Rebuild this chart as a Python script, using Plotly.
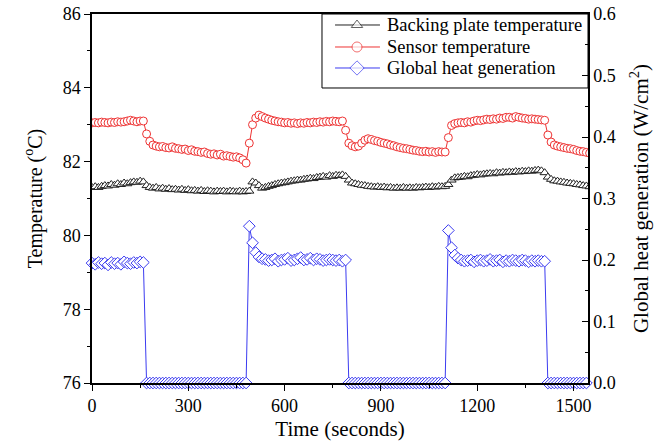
import plotly.graph_objects as go

# time samples (s)
time_s = list(range(0, 1560, 10))

backing_plate = [
    81.30, 81.32, 81.30, 81.33, 81.35, 81.34, 81.38, 81.36, 81.40, 81.38,   # 0-90
    81.42, 81.40, 81.43, 81.45, 81.44, 81.47, 81.45, 81.35, 81.30, 81.28,   # 100-190
    81.30, 81.26, 81.28, 81.25, 81.27, 81.24, 81.25, 81.23, 81.25, 81.22,   # 200-290
    81.24, 81.21, 81.22, 81.20, 81.22, 81.19, 81.21, 81.20, 81.18, 81.20,   # 300-390
    81.19, 81.20, 81.18, 81.20, 81.19, 81.18, 81.20, 81.18, 81.19, 81.20,   # 400-490
    81.45, 81.42, 81.35, 81.28, 81.30, 81.33, 81.35, 81.38, 81.40, 81.42,   # 500-590
    81.43, 81.45, 81.47, 81.48, 81.50, 81.50, 81.52, 81.53, 81.55, 81.54,   # 600-690
    81.57, 81.58, 81.60, 81.58, 81.62, 81.60, 81.63, 81.62, 81.64, 81.60,   # 700-790
    81.50, 81.42, 81.40, 81.38, 81.36, 81.35, 81.33, 81.32, 81.31, 81.32,   # 800-890
    81.30, 81.31, 81.29, 81.30, 81.28, 81.29, 81.28, 81.30, 81.28, 81.29,   # 900-990
    81.28, 81.30, 81.29, 81.30, 81.31, 81.30, 81.32, 81.31, 81.33, 81.32,   # 1000-1090
    81.33, 81.38, 81.50, 81.56, 81.57, 81.58, 81.60, 81.59, 81.62, 81.63,   # 1100-1190
    81.65, 81.64, 81.66, 81.67, 81.68, 81.67, 81.70, 81.69, 81.71, 81.70,   # 1200-1290
    81.72, 81.71, 81.73, 81.72, 81.74, 81.73, 81.75, 81.74, 81.76, 81.77,   # 1300-1390
    81.75, 81.70, 81.58, 81.52, 81.48, 81.47, 81.45, 81.44, 81.42, 81.41,   # 1400-1490
    81.40, 81.38, 81.37, 81.35, 81.34, 81.32,                               # 1500-1550
]

sensor = [
    83.05, 83.06, 83.05, 83.07, 83.06, 83.05, 83.07, 83.06, 83.08, 83.07,   # 0-90
    83.08, 83.10, 83.12, 83.10, 83.08, 83.10, 83.10, 82.75, 82.55, 82.45,   # 100-190
    82.42, 82.40, 82.41, 82.38, 82.37, 82.40, 82.36, 82.35, 82.33, 82.34,   # 200-290
    82.30, 82.32, 82.28, 82.27, 82.25, 82.26, 82.22, 82.20, 82.21, 82.18,   # 300-390
    82.20, 82.15, 82.16, 82.14, 82.12, 82.13, 82.10, 82.05, 81.96, 82.50,   # 400-490
    83.00, 83.18, 83.26, 83.22, 83.18, 83.15, 83.12, 83.10, 83.08, 83.07,   # 500-590
    83.05, 83.06, 83.04, 83.05, 83.03, 83.05, 83.04, 83.06, 83.05, 83.07,   # 600-690
    83.06, 83.08, 83.07, 83.09, 83.08, 83.10, 83.09, 83.08, 83.10, 82.85,   # 700-790
    82.50, 82.43, 82.40, 82.42, 82.50, 82.58, 82.62, 82.60, 82.57, 82.55,   # 800-890
    82.52, 82.50, 82.48, 82.45, 82.43, 82.40, 82.38, 82.36, 82.35, 82.33,   # 900-990
    82.31, 82.30, 82.28, 82.27, 82.28, 82.26, 82.27, 82.25, 82.27, 82.26,   # 1000-1090
    82.26, 82.65, 82.98, 83.03, 83.05, 83.06, 83.05, 83.08, 83.07, 83.10,   # 1100-1190
    83.12, 83.11, 83.13, 83.15, 83.14, 83.16, 83.15, 83.18, 83.17, 83.20,   # 1200-1290
    83.20, 83.18, 83.22, 83.20, 83.18, 83.17, 83.15, 83.16, 83.15, 83.14,   # 1300-1390
    83.13, 83.12, 82.72, 82.53, 82.45, 82.42, 82.40, 82.38, 82.36, 82.35,   # 1400-1490
    82.33, 82.30, 82.28, 82.27, 82.25, 82.23,                               # 1500-1550
]

heat_generation = [
    0.195, 0.193, 0.196, 0.194, 0.195, 0.192, 0.196, 0.194, 0.195, 0.193,   # 0-90
    0.197, 0.195, 0.194, 0.196, 0.195, 0.197, 0.196, 0.000, 0.000, 0.000,   # 100-190
    0.000, 0.000, 0.000, 0.000, 0.000, 0.000, 0.000, 0.000, 0.000, 0.000,   # 200-290
    0.000, 0.000, 0.000, 0.000, 0.000, 0.000, 0.000, 0.000, 0.000, 0.000,   # 300-390
    0.000, 0.000, 0.000, 0.000, 0.000, 0.000, 0.000, 0.000, 0.000, 0.255,   # 400-490
    0.228, 0.212, 0.205, 0.202, 0.201, 0.199, 0.200, 0.202, 0.198, 0.200,   # 500-590
    0.201, 0.203, 0.199, 0.200, 0.202, 0.204, 0.200, 0.201, 0.203, 0.200,   # 600-690
    0.202, 0.201, 0.199, 0.200, 0.201, 0.200, 0.199, 0.200, 0.198, 0.200,   # 700-790
    0.000, 0.000, 0.000, 0.000, 0.000, 0.000, 0.000, 0.000, 0.000, 0.000,   # 800-890
    0.000, 0.000, 0.000, 0.000, 0.000, 0.000, 0.000, 0.000, 0.000, 0.000,   # 900-990
    0.000, 0.000, 0.000, 0.000, 0.000, 0.000, 0.000, 0.000, 0.000, 0.000,   # 1000-1090
    0.000, 0.248, 0.220, 0.208, 0.203, 0.200, 0.198, 0.199, 0.200, 0.197,   # 1100-1190
    0.199, 0.200, 0.198, 0.199, 0.201, 0.198, 0.199, 0.200, 0.197, 0.199,   # 1200-1290
    0.198, 0.200, 0.199, 0.198, 0.200, 0.199, 0.197, 0.199, 0.198, 0.199,   # 1300-1390
    0.198, 0.198, 0.000, 0.000, 0.000, 0.000, 0.000, 0.000, 0.000, 0.000,   # 1400-1490
    0.000, 0.000, 0.000, 0.000, 0.000, 0.000,                               # 1500-1550
]

series_names = ["Backing plate temperature", "Sensor temperature", "Global heat generation"]

FONT = "Liberation Serif"
BLACK = "#222222"
RED = "#ee3333"
BLUE = "#3b3bf0"
colors = [BLACK, RED, BLUE]
symbols = ["triangle-up", "circle", "diamond"]
sizes = [8, 8, 9]

fig = go.Figure()
fig.add_trace(go.Scatter(
    x=time_s, y=backing_plate, name=series_names[0], mode="lines+markers",
    line=dict(color=colors[0], width=1),
    marker=dict(symbol=symbols[0], size=sizes[0], color="white", line=dict(color=colors[0], width=1)),
))
fig.add_trace(go.Scatter(
    x=time_s, y=sensor, name=series_names[1], mode="lines+markers",
    line=dict(color=colors[1], width=1),
    marker=dict(symbol=symbols[1], size=sizes[1], color="white", line=dict(color=colors[1], width=1)),
))
fig.add_trace(go.Scatter(
    x=time_s, y=heat_generation, name=series_names[2], mode="lines+markers", yaxis="y2",
    line=dict(color=colors[2], width=1),
    marker=dict(symbol=symbols[2], size=sizes[2], color="white", line=dict(color=colors[2], width=1)),
    cliponaxis=False,
))

# ---- custom legend (box, key lines, key markers, labels), positioned in plot-area fractions
leg_x0, leg_x1, leg_y0, leg_y1 = 0.4637, 1.0, 0.7995, 1.0
key_x0, key_x1, key_xm, text_x = 0.49, 0.5806, 0.5343, 0.5907
row_y = [0.9702, 0.9106, 0.8537]

shapes = [dict(type="rect", xref="paper", yref="paper", x0=leg_x0, x1=leg_x1, y0=leg_y0, y1=leg_y1,
               line=dict(color="black", width=1), fillcolor="white", layer="below")]
for c, yy in zip(colors, row_y):
    shapes.append(dict(type="line", xref="paper", yref="paper", x0=key_x0, x1=key_x1, y0=yy, y1=yy,
                       line=dict(color=c, width=1), layer="below"))
annotations = [dict(x=text_x, y=yy, xref="paper", yref="paper", xanchor="left", yanchor="middle",
                    text=name, showarrow=False, font=dict(family=FONT, size=18.5, color="black"))
               for name, yy in zip(series_names, row_y)]

fig.add_trace(go.Scatter(
    x=[key_xm] * 3, y=row_y, xaxis="x2", yaxis="y3", mode="markers", showlegend=False, hoverinfo="skip",
    marker=dict(symbol=symbols, size=[10, 10, 11], color="white", line=dict(color=colors, width=1)),
    cliponaxis=False,
))

axis_common = dict(
    showline=True, linecolor="black", linewidth=1.5, showgrid=False, zeroline=False, automargin=False,
    tickfont=dict(family=FONT, size=18, color="black"), tickcolor="black",
)

fig.update_layout(
    width=659, height=444,
    margin=dict(l=92, r=71, t=14, b=61),
    paper_bgcolor="white", plot_bgcolor="white",
    font=dict(family=FONT, color="black"),
    showlegend=False,
    shapes=shapes, annotations=annotations,
    xaxis=dict(
        **axis_common, range=[0, 1545], dtick=300, tick0=0,
        ticks="outside", ticklen=6, mirror=True,
        minor=dict(dtick=150, ticks="outside", ticklen=3, tickcolor="black"),
        title=dict(text="Time (seconds)", font=dict(family=FONT, size=21), standoff=6),
    ),
    yaxis=dict(
        **axis_common, range=[76, 86], dtick=2, tick0=76,
        ticks="outside", ticklen=6,
        minor=dict(dtick=1, ticks="outside", ticklen=3, tickcolor="black"),
        title=dict(text="Temperature (<sup>o</sup>C)", font=dict(family=FONT, size=20), standoff=15),
    ),
    yaxis2=dict(
        **axis_common, range=[0, 0.6], dtick=0.1, tick0=0, tickformat=".1f",
        overlaying="y", side="right", anchor="x",
        ticks="inside", ticklen=6,
        minor=dict(dtick=0.05, ticks="inside", ticklen=3, tickcolor="black"),
        title=dict(text="Global heat generation (W/cm<sup>2</sup>)", font=dict(family=FONT, size=21), standoff=18),
    ),
    xaxis2=dict(overlaying="x", range=[0, 1], visible=False, anchor="y3"),
    yaxis3=dict(overlaying="y", range=[0, 1], visible=False, anchor="x2"),
)

fig.write_html("out.html")
